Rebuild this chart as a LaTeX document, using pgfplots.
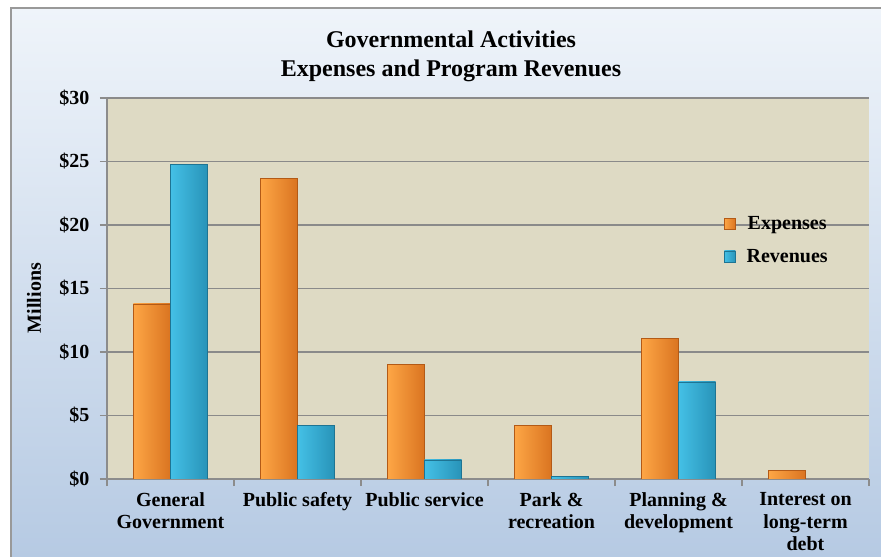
\documentclass[border=0pt]{standalone}
\usepackage{fontspec}
\setmainfont{Liberation Serif}
\usepackage{pgfplots}
\pgfplotsset{compat=1.18}
\definecolor{bgtop}{HTML}{EFF4FA}
\definecolor{bgbot}{HTML}{B6CAE3}
\definecolor{plotbg}{HTML}{DEDAC4}
\definecolor{gridgray}{HTML}{8A8A8A}
\definecolor{axisgray}{HTML}{8C8C8C}
\definecolor{orL}{HTML}{FDA646}
\definecolor{orR}{HTML}{DA7420}
\definecolor{orE}{HTML}{B35A16}
\definecolor{blL}{HTML}{44C0E6}
\definecolor{blR}{HTML}{2893B8}
\definecolor{blE}{HTML}{1E7493}
\pgfplotsset{
  exp/.style={draw=orE, left color=orL, right color=orR, bar shift=-18.5bp},
  rev/.style={draw=blE, left color=blL, right color=blR, bar shift=18.5bp},
}
\begin{document}
\begin{tikzpicture}
\useasboundingbox (0bp,0bp) rectangle (881bp,557bp);
\fill[white] (0bp,0bp) rectangle (881bp,557bp);
\shade[top color=bgtop, bottom color=bgbot] (11bp,0bp) rectangle (881bp,549bp);
\draw[gray!80, line width=1.2bp] (11bp,0bp) -- (11bp,549bp) -- (881bp,549bp);
\node[font=\bfseries\fontsize{24bp}{29bp}\selectfont, align=center] at (451bp,501bp) {Governmental Activities\\Expenses and Program Revenues};
\begin{axis}[
  at={(107bp,78bp)}, anchor=south west, scale only axis,
  width=762bp, height=381bp,
  xmin=-0.5, xmax=5.5, ymin=0, ymax=30,
  ybar=0pt, bar width=37bp,
  axis x line*=bottom, axis y line*=left,
  axis line style={draw=axisgray, line width=1.2bp, -},
  axis background/.style={fill=plotbg},
  ymajorgrids, grid style={draw=gridgray, line width=1.6bp},
  tick align=outside, major tick length=7bp, minor tick length=7bp,
  ytick={0,5,...,30},
  yticklabels={\$0,\$5,\$10,\$15,\$20,\$25,\$30},
  xtick={0,...,5},
  minor xtick={-0.5,0.5,...,5.5},
  major x tick style={draw=none},
  minor x tick style={draw=axisgray, line width=1.2bp},
  major y tick style={draw=axisgray, line width=1.2bp},
  xticklabels={General\\Government, Public safety, Public service, Park \&\\recreation, Planning \&\\development, Interest on\\long-term\\debt},
  xticklabel style={align=center, font=\bfseries\fontsize{20bp}{22.5bp}\selectfont, anchor=north, yshift=-3bp},
  yticklabel style={font=\bfseries\fontsize{20bp}{22bp}\selectfont, xshift=-7bp},
  ylabel={Millions},
  ylabel style={font=\bfseries\fontsize{20bp}{22bp}\selectfont, at={(axis description cs:-0.0958,0.475)}, anchor=center},
  legend style={at={(0.8097,0.627)}, anchor=west, draw=none, fill=none,
    font=\bfseries\fontsize{20bp}{22bp}\selectfont, row sep=14bp, column sep=9bp, inner sep=0pt},
  legend image code/.code={\draw[#1, bar shift=0pt] (0bp,-5.5bp) rectangle (11bp,5.5bp);},
]
% Expenses
\addplot[exp] coordinates {(0,13.8)};
\addplot[rev] coordinates {(0,24.75)};
\addplot[exp, forget plot] coordinates {(1,23.65)};
\addplot[exp, forget plot] coordinates {(2,9.05)};
\addplot[exp, forget plot] coordinates {(3,4.2)};
\addplot[exp, forget plot] coordinates {(4,11.05)};
\addplot[exp, forget plot] coordinates {(5,0.7)};
% Revenues
\addplot[rev, forget plot] coordinates {(1,4.2)};
\addplot[rev, forget plot] coordinates {(2,1.5)};
\addplot[rev, forget plot] coordinates {(3,0.2)};
\addplot[rev, forget plot] coordinates {(4,7.65)};
\legend{Expenses, Revenues}
\end{axis}
\end{tikzpicture}
\end{document}
